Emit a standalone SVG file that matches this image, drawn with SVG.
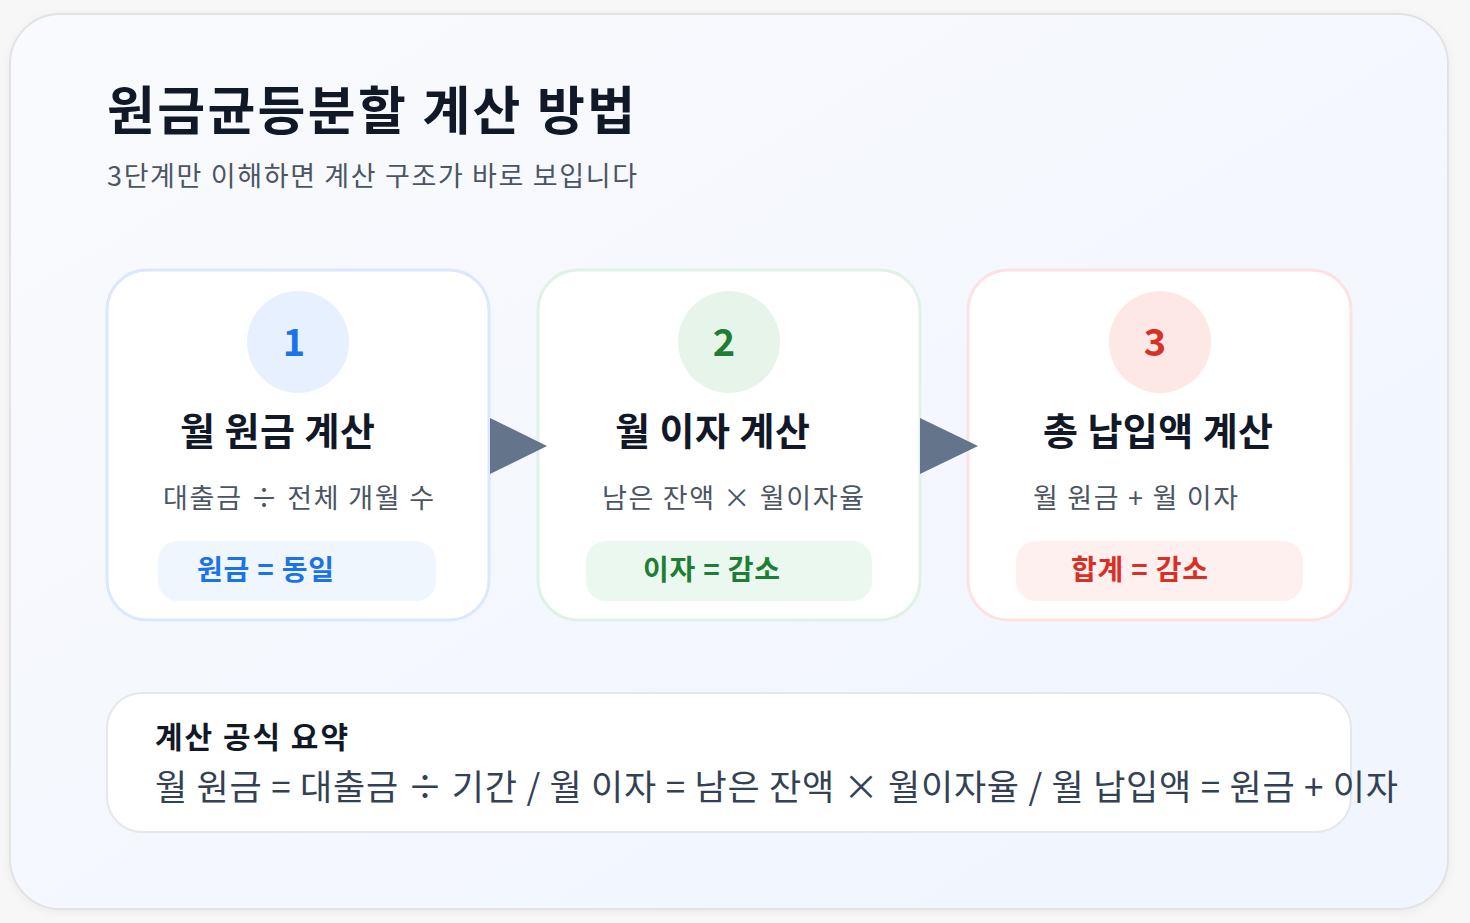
<svg xmlns="http://www.w3.org/2000/svg" width="1470" height="923" viewBox="0 0 1470 923">
<defs>
<linearGradient id="bg" x1="0" y1="0" x2="1" y2="1">
<stop offset="0" stop-color="#f9fafd"/>
<stop offset="1" stop-color="#f0f5fe"/>
</linearGradient>
<filter id="sh" x="-5%" y="-5%" width="110%" height="110%">
<feDropShadow dx="0" dy="2" stdDeviation="4" flood-color="#000" flood-opacity="0.05"/>
</filter>
<style>
text{font-family:"Noto Sans CJK KR","Noto Sans",sans-serif;}
.h1{font-size:52px;font-weight:700;fill:#111827;}
.sub{font-size:27px;fill:#4b5563;}
.card{fill:#fff;stroke-width:3;}
.num{font-size:38px;font-weight:700;text-anchor:middle;}
.ct{font-size:38px;font-weight:700;fill:#111827;}
.cd{font-size:27px;fill:#4b5563;}
.bt{font-size:28px;font-weight:700;}
.arr{fill:#64748b;}
.st{font-size:30px;font-weight:700;fill:#111827;}
.sf{font-size:35px;fill:#334155;}
</style>
</defs>
<rect x="0" y="0" width="1470" height="923" fill="#f7f7f7"/>
<rect x="10" y="14" width="1438" height="895" rx="50" fill="url(#bg)" stroke="#e2e2e2" stroke-width="2" filter="url(#sh)"/>
<g id="header">
<text class="h1" x="107" y="130" textLength="528" lengthAdjust="spacing">원금균등분할 계산 방법</text>
<text class="sub" x="107" y="186" textLength="530" lengthAdjust="spacing">3단계만 이해하면 계산 구조가 바로 보입니다</text>
</g>
<g id="step1">
<rect class="card" x="107" y="270" width="382" height="350" rx="40" stroke="#dbe7fd"/>
<circle cx="298" cy="342" r="51" fill="#e6f0fe"/>
<text class="num" x="294" y="356" fill="#1a73e8">1</text>
<text class="ct" x="180" y="445" textLength="195" lengthAdjust="spacing">월 원금 계산</text>
<text class="cd" x="163" y="508" textLength="271" lengthAdjust="spacing">대출금 ÷ 전체 개월 수</text>
<rect x="158" y="541" width="278" height="60" rx="20" fill="#f0f6fe"/>
<text class="bt" x="197" y="580" fill="#1a73e8" textLength="137" lengthAdjust="spacing">원금 = 동일</text>
</g>
<g id="step2">
<rect class="card" x="538" y="270" width="382" height="350" rx="40" stroke="#dff2e4"/>
<circle cx="729" cy="342" r="51" fill="#e6f4ea"/>
<text class="num" x="724" y="356" fill="#1e7e34">2</text>
<text class="ct" x="615" y="445" textLength="195" lengthAdjust="spacing">월 이자 계산</text>
<text class="cd" x="602" y="508" textLength="262" lengthAdjust="spacing">남은 잔액 × 월이자율</text>
<rect x="586" y="541" width="286" height="60" rx="20" fill="#ebf8ef"/>
<text class="bt" x="643" y="580" fill="#1e7e34" textLength="137" lengthAdjust="spacing">이자 = 감소</text>
</g>
<g id="step3">
<rect class="card" x="968" y="270" width="383" height="350" rx="40" stroke="#fde2df"/>
<circle cx="1160" cy="342" r="51" fill="#fde8e6"/>
<text class="num" x="1155" y="356" fill="#d93025">3</text>
<text class="ct" x="1043" y="445" textLength="230" lengthAdjust="spacing">총 납입액 계산</text>
<text class="cd" x="1033" y="508" textLength="205" lengthAdjust="spacing">월 원금 + 월 이자</text>
<rect x="1016" y="541" width="287" height="60" rx="20" fill="#fef0ef"/>
<text class="bt" x="1071" y="580" fill="#d93025" textLength="137" lengthAdjust="spacing">합계 = 감소</text>
</g>
<g id="connectors">
<polygon class="arr" points="490,418 547,446 490,474"/>
<polygon class="arr" points="920,418 978,446 920,474"/>
</g>
<g id="summary">
<rect x="107" y="693" width="1244" height="139" rx="35" fill="#fff" stroke="#e5e7eb" stroke-width="2"/>
<text class="st" x="155" y="748" textLength="193" lengthAdjust="spacing">계산 공식 요약</text>
<text class="sf" x="155" y="800" textLength="1243" lengthAdjust="spacing">월 원금 = 대출금 ÷ 기간 / 월 이자 = 남은 잔액 × 월이자율 / 월 납입액 = 원금 + 이자</text>
</g>
</svg>
